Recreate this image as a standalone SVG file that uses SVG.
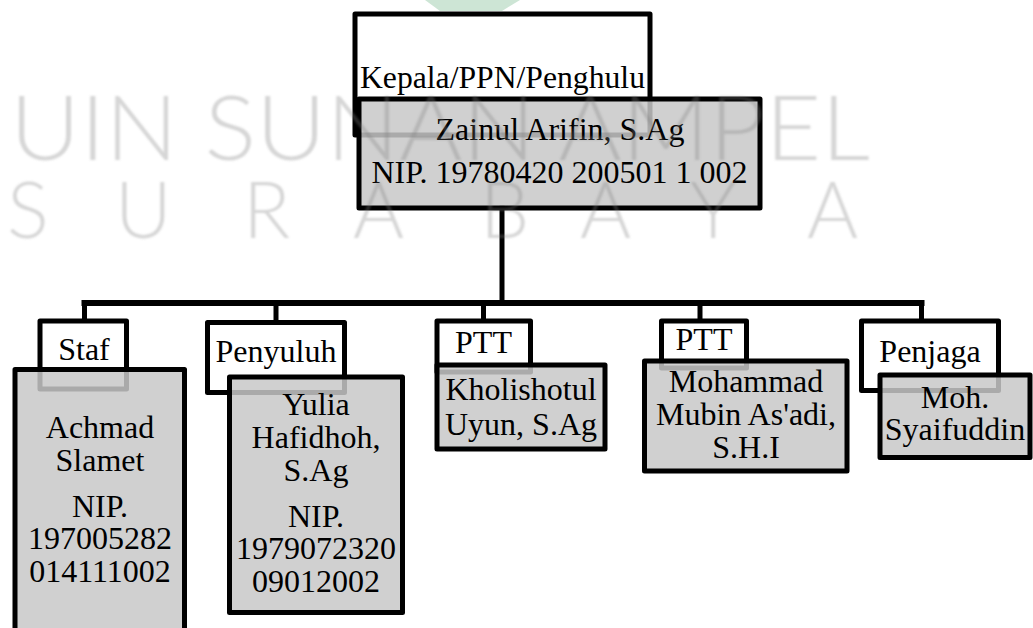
<svg xmlns="http://www.w3.org/2000/svg" width="1033" height="628" viewBox="0 0 1033 628">
<style>
.lbl{fill:#fff;stroke:#000;stroke-width:5;stroke-linejoin:round}
.box{fill:#c8c8c8;fill-opacity:.85;stroke:#000;stroke-width:5;stroke-linejoin:round}
.t{font-family:"Liberation Serif","Times New Roman",serif;font-size:32px;fill:#000;text-anchor:middle}
.wm{font-family:Lato,"Open Sans",sans-serif;font-weight:300;fill:#808080;fill-opacity:.32}
.c{fill:none;stroke:#000;stroke-linecap:square;stroke-linejoin:miter}
</style>
<defs>
<filter id="soft" x="-5%" y="-20%" width="110%" height="140%"><feGaussianBlur stdDeviation="1.2"/></filter>
</defs>
<rect width="1033" height="628" fill="#fff"/>
<path d="M425,0 L520,0 L502,11 L440,11 Z" fill="#cde5d5"/>
<g id="connectors">
<path class="c" stroke-width="5" d="M502,208 V303"/>
<path class="c" stroke-width="6" d="M84.5,303 H921.5"/>
<path class="c" stroke-width="5" d="M84.5,303 V321 M276,303 V322 M483.5,303 V321 M700,303 V321 M921.5,303 V321"/>
</g>
<g id="kepala">
<rect class="lbl" x="355" y="14" width="295" height="121"/>
<text class="t" x="502.5" y="88" font-size="40" textLength="285" lengthAdjust="spacingAndGlyphs">Kepala/PPN/Penghulu</text>
<rect class="box" x="359" y="99" width="401" height="109"/>
<text class="t" x="560" y="140">Zainul Arifin, S.Ag</text>
<text class="t" x="559.5" y="183">NIP. 19780420 200501 1 002</text>
</g>
<g id="staf">
<rect class="lbl" x="40" y="321" width="86.5" height="68"/>
<text class="t" x="84" y="360">Staf</text>
<rect class="box" x="15" y="369.5" width="169.5" height="280"/>
<text class="t" x="100" y="438">Achmad</text>
<text class="t" x="100" y="471">Slamet</text>
<text class="t" x="100" y="517">NIP.</text>
<text class="t" x="100" y="549">197005282</text>
<text class="t" x="100" y="582">014111002</text>
</g>
<g id="penyuluh">
<rect class="lbl" x="207.5" y="322.5" width="137" height="70"/>
<text class="t" x="276" y="362">Penyuluh</text>
<rect class="box" x="229.5" y="377" width="173" height="235.5"/>
<text class="t" x="316" y="415">Yulia</text>
<text class="t" x="316" y="448">Hafidhoh,</text>
<text class="t" x="316" y="481">S.Ag</text>
<text class="t" x="316" y="527">NIP.</text>
<text class="t" x="316" y="559">1979072320</text>
<text class="t" x="316" y="592">09012002</text>
</g>
<g id="ptt1">
<rect class="lbl" x="437" y="321" width="93.5" height="51"/>
<text class="t" x="483.5" y="353">PTT</text>
<rect class="box" x="437" y="365" width="168" height="84"/>
<text class="t" x="521" y="400">Kholishotul</text>
<text class="t" x="521" y="435">Uyun, S.Ag</text>
</g>
<g id="ptt2">
<rect class="lbl" x="661.5" y="321" width="85" height="47"/>
<text class="t" x="704" y="350">PTT</text>
<rect class="box" x="644.5" y="361" width="202.5" height="110"/>
<text class="t" x="746" y="392">Mohammad</text>
<text class="t" x="746" y="425">Mubin As'adi,</text>
<text class="t" x="746" y="458">S.H.I</text>
</g>
<g id="penjaga">
<rect class="lbl" x="861.5" y="321" width="137" height="69.5"/>
<text class="t" x="930" y="362">Penjaga</text>
<rect class="box" x="880" y="375" width="150" height="82.5"/>
<text class="t" x="955" y="408">Moh.</text>
<text class="t" x="955" y="440">Syaifuddin</text>
</g>
<g id="watermark" filter="url(#soft)">
<text class="wm" x="10" y="160" font-size="90" textLength="860" lengthAdjust="spacingAndGlyphs">UIN SUNAN AMPEL</text>
<text class="wm" font-size="78" y="238" x="7 115 243 353 480 580 690 807">SURABAYA</text>
</g>
</svg>
